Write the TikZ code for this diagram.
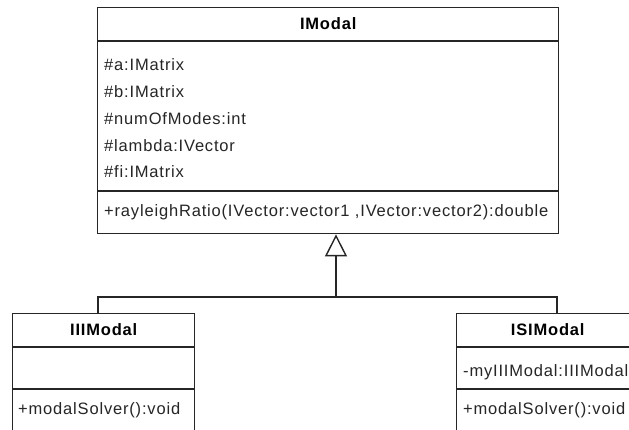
\documentclass[tikz,border=0pt]{standalone}
\usepackage{fontspec}
\setmainfont{Liberation Sans}[LetterSpace=5]
\usetikzlibrary{arrows.meta}
\begin{document}
\begin{tikzpicture}[x=1pt,y=-1pt,
  ink/.style={draw=black!85, line width=1.4pt},
  umlbox/.style={ink, rectangle, inner sep=0pt, anchor=north west, fill=white},
  member/.style={anchor=west, inner sep=0pt, text=black!85, font=\fontsize{16.5}{20}\selectfont},
  classname/.style={inner sep=0pt, font=\fontsize{16.5}{20}\selectfont\bfseries},
  generalize/.style={ink, -{Triangle[open, length=22pt, width=22pt, line width=1.4pt]}},
]
\clip (0,0) rectangle (629,430);
\fill[white] (0,0) rectangle (629,430);

% abstract base class
\node[umlbox, minimum width=461pt, minimum height=226pt] (imodal) at (97,7) {};
\draw[ink] (imodal.west |- 0,41) -- (imodal.east |- 0,41);
\draw[ink] (imodal.west |- 0,191) -- (imodal.east |- 0,191);
\node[classname] (imodalT) at (imodal.north |- 0,24) {IModal};
\node[member] (aA) at (104,65) {\#a:IMatrix};
\node[member] (aB) at (104,91.75) {\#b:IMatrix};
\node[member] (aN) at (104,118.5) {\#numOfModes:int};
\node[member] (aL) at (104,145.25) {\#lambda:IVector};
\node[member] (aF) at (104,172) {\#fi:IMatrix};
\node[member] (mR) at (104,212) {+rayleighRatio(IVector:vector1 ,IVector:vector2):double};

% derived classes
\node[umlbox, minimum width=182pt, minimum height=140pt] (iii) at (12,313) {};
\draw[ink] (iii.west |- 0,347) -- (iii.east |- 0,347);
\draw[ink] (iii.west |- 0,389) -- (iii.east |- 0,389);
\node[classname] (iiiT) at (iii.north |- 0,330) {IIIModal};
\node[member] (iiiM) at (18,410) {+modalSolver():void};

\node[umlbox, minimum width=182pt, minimum height=140pt] (isi) at (456,313) {};
\draw[ink] (isi.west |- 0,347) -- (isi.east |- 0,347);
\draw[ink] (isi.west |- 0,389) -- (isi.east |- 0,389);
\node[classname] (isiT) at (isi.north |- 0,330) {ISIModal};
\node[member] (isiA) at (463,372) {-myIIIModal:IIIModal};
\node[member] (isiM) at (463,410) {+modalSolver():void};

% generalization tree
\coordinate (hub) at (336,297);
\coordinate (iiiTop) at (98,313);
\coordinate (isiTop) at (557,313);
\draw[ink] (iiiTop) |- (hub) -| (isiTop);
\draw[generalize] (hub) -- (hub |- imodal.south);
\end{tikzpicture}
\end{document}
